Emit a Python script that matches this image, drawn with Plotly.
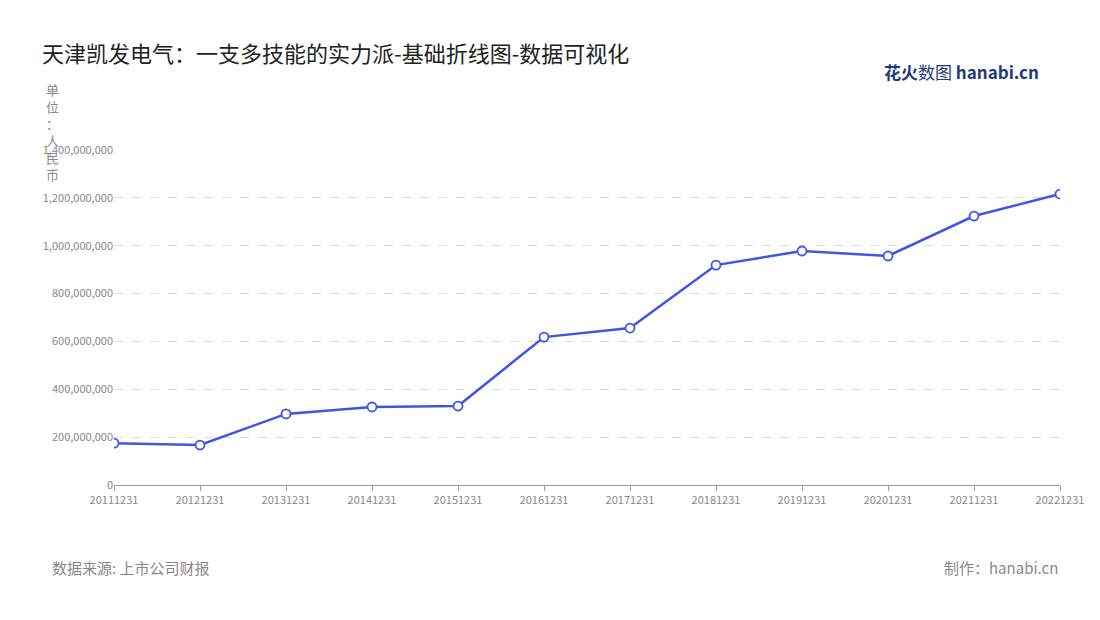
import plotly.graph_objects as go

dates = ["20111231","20121231","20131231","20141231","20151231","20161231",
         "20171231","20181231","20191231","20201231","20211231","20221231"]
revenue = [175e6, 167e6, 297e6, 326e6, 330e6, 618e6, 656e6, 919e6, 978e6, 957e6, 1124e6, 1216e6]
tick_vals = [0, 200e6, 400e6, 600e6, 800e6, 1000e6, 1200e6, 1400e6]
tick_text = ["0", "200,000,000", "400,000,000", "600,000,000", "800,000,000",
             "1,000,000,000", "1,200,000,000", "1,400,000,000"]

fig = go.Figure(go.Scatter(
    x=dates, y=revenue, mode="lines+markers",
    line=dict(color="#3d55e8", width=2.5),
    marker=dict(size=9, color="white", line=dict(color="#3d55e8", width=1.8)),
))
font = "Noto Sans CJK SC"
fig.update_layout(
    width=1100, height=620, paper_bgcolor="white", plot_bgcolor="white",
    margin=dict(l=106, r=48, t=142, b=143), showlegend=False,
    font=dict(family=font, color="#888"),
    title=dict(text="天津凯发电气：一支多技能的实力派-基础折线图-数据可视化",
               x=0.031, xanchor="left", y=0.925, yanchor="middle",
               font=dict(size=22, color="#222", family=font)),
    xaxis=dict(type="category", range=[0, 11], showgrid=False, showline=True,
               linecolor="#999", ticks="outside", tickcolor="#999", ticklen=5,
               tickfont=dict(size=11, color="#888")),
    yaxis=dict(range=[0, 1.4e9], tickvals=tick_vals, ticktext=tick_text,
               gridcolor="#ddd", griddash="dash", zeroline=False,
               tickfont=dict(size=11, color="#888")),
)
fig.add_annotation(text="单<br>位<br>：<br>人<br>民<br>币", xref="paper", yref="paper",
                   x=-0.065, y=1.215, xanchor="center", yanchor="top", showarrow=False,
                   font=dict(size=13, color="#888"))
fig.add_annotation(text="数据来源: 上市公司财报", xref="paper", yref="paper",
                   x=-0.068, y=-0.245, xanchor="left", yanchor="middle", showarrow=False,
                   font=dict(size=15, color="#888"))
fig.add_annotation(text="制作：hanabi.cn", xref="paper", yref="paper",
                   x=1.0, y=-0.245, xanchor="right", yanchor="middle", showarrow=False,
                   font=dict(size=15, color="#888"))
fig.add_annotation(text="<b>花火</b>数图 <b>hanabi.cn</b>", xref="paper", yref="paper",
                   x=0.98, y=1.235, xanchor="right", yanchor="middle", showarrow=False,
                   font=dict(size=17, color="#1d3a7a"))
fig.write_html("out.html")
